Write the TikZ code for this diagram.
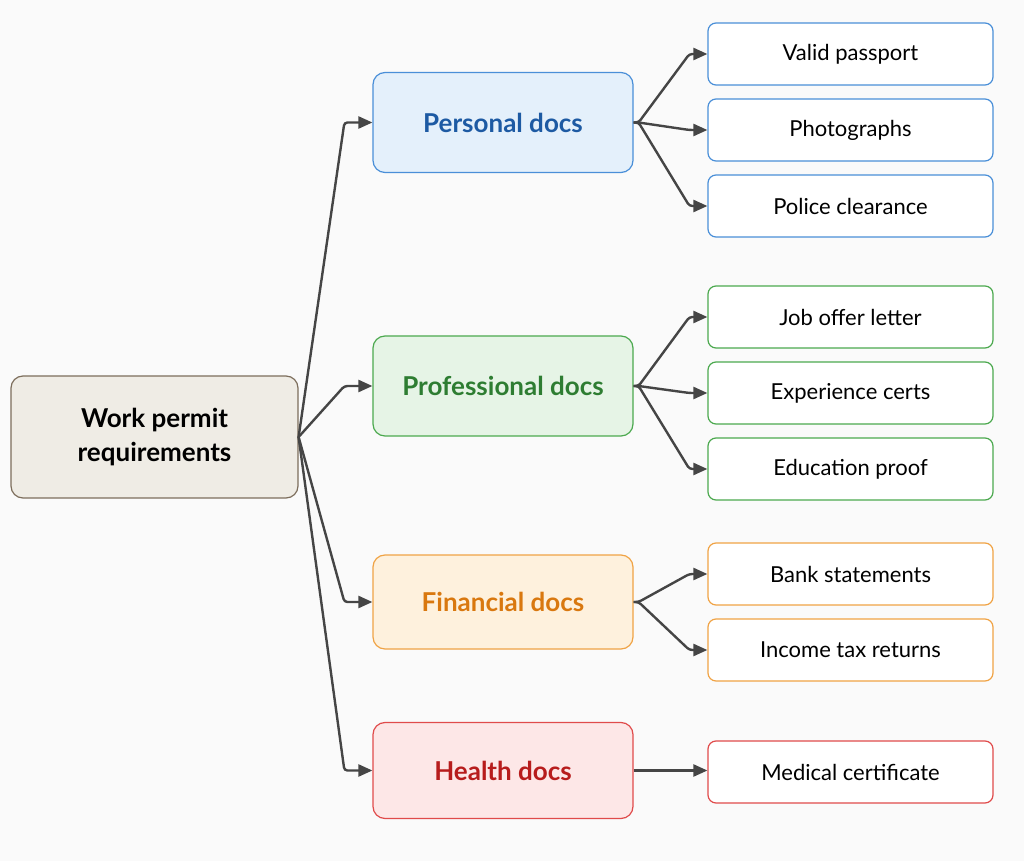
\documentclass[tikz,border=0pt]{standalone}
\usepackage{fontspec}
\setmainfont{Lato}
\usepackage{xcolor}
\usepackage{tikz}
\usetikzlibrary{arrows.meta, positioning}

\definecolor{bgpage}{HTML}{FAFAFA}
\definecolor{rootfill}{HTML}{EFECE5}
\definecolor{rootline}{HTML}{7D6E5C}
\definecolor{bluefill}{HTML}{E4F0FB}
\definecolor{blueline}{HTML}{4A8FD8}
\definecolor{bluetext}{HTML}{1D5AA3}
\definecolor{greenfill}{HTML}{E6F4E6}
\definecolor{greenline}{HTML}{4CA94F}
\definecolor{greentext}{HTML}{2E7D32}
\definecolor{orangefill}{HTML}{FEF1DD}
\definecolor{orangeline}{HTML}{F0A345}
\definecolor{orangetext}{HTML}{D9780F}
\definecolor{redfill}{HTML}{FDE7E7}
\definecolor{redline}{HTML}{E04B4B}
\definecolor{redtext}{HTML}{B71C1C}
\definecolor{linkgray}{HTML}{454545}

\begin{document}
\begin{tikzpicture}[
    x=0.5pt, y=-0.5pt,
    rootbox/.style={rectangle, rounded corners=6pt, draw=rootline, fill=rootfill, line width=0.6pt, minimum width=143.5pt, minimum height=61pt, align=center, font=\bfseries\fontsize{13}{17}\selectfont},
    catbox/.style={rectangle, rounded corners=6pt, line width=0.6pt, minimum width=130pt, minimum height=50pt, align=center, font=\bfseries\fontsize{13}{15}\selectfont},
    leaf/.style={rectangle, rounded corners=4pt, fill=white, line width=0.6pt, minimum width=142.5pt, minimum height=31pt, align=center, font=\fontsize{11}{13}\selectfont},
    conn/.style={-{Triangle[length=7pt, width=6pt]}, draw=linkgray, line width=1.2pt, rounded corners=1.5pt},
    node distance=6.4pt
]

% page
\fill[bgpage] (0,0) rectangle (1024,861);
\useasboundingbox (0,0) rectangle (1024,861);

\node[rootbox] (root) at (154.5,437) {Work permit\\requirements};

% categories
\node[catbox, draw=blueline, fill=bluefill, text=bluetext] (personal) at (503,122.5) {Personal docs};
\node[catbox, draw=greenline, fill=greenfill, text=greentext] (professional) at (503,386) {Professional docs};
\node[catbox, draw=orangeline, fill=orangefill, text=orangetext, minimum height=47pt] (financial) at (503,602) {Financial docs};
\node[catbox, draw=redline, fill=redfill, text=redtext, minimum height=48pt] (health) at (503,770.5) {Health docs};

% leaves
\node[leaf, draw=blueline] (passport) at (850.5,54) {Valid passport};
\node[leaf, draw=blueline, below=of passport] (photos) {Photographs};
\node[leaf, draw=blueline, below=of photos] (police) {Police clearance};

\node[leaf, draw=greenline] (joboffer) at (850.5,317) {Job offer letter};
\node[leaf, draw=greenline, below=of joboffer] (expcerts) {Experience certs};
\node[leaf, draw=greenline, below=of expcerts] (eduproof) {Education proof};

\node[leaf, draw=orangeline] (bank) at (850.5,574) {Bank statements};
\node[leaf, draw=orangeline, below=of bank] (taxes) {Income tax returns};

\node[leaf, draw=redline] (medical) at (850.5,772) {Medical certificate};

% Arrows
\foreach \cat in {personal, professional, financial, health}
    \draw[conn] (root.east) -- ([xshift=-14pt]\cat.west) -- (\cat.west);

\foreach \cat/\kid in {personal/passport, personal/photos, personal/police,
                       professional/joboffer, professional/expcerts, professional/eduproof,
                       financial/bank, financial/taxes}
    \draw[conn] (\cat.east) -- ++(5,0) -- ([xshift=-9pt]\kid.west) -- (\kid.west);

\draw[conn] (health.east) -- (medical.west |- health.east);

\end{tikzpicture}
\end{document}
